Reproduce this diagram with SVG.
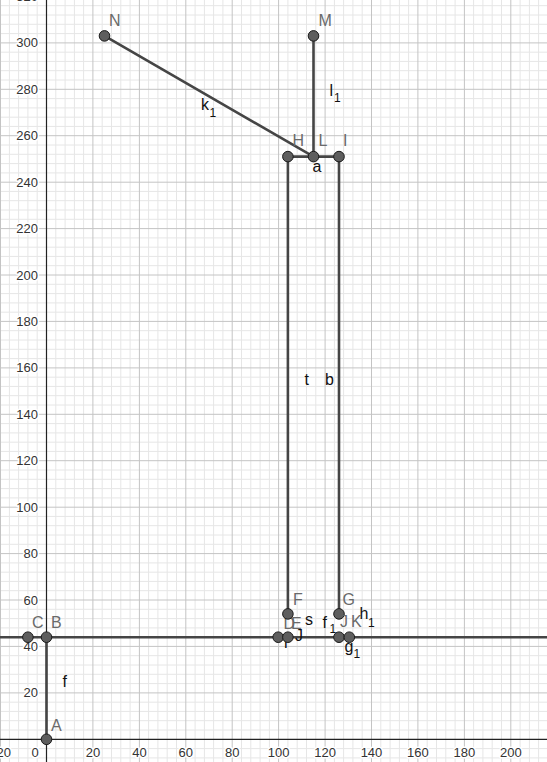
<svg xmlns="http://www.w3.org/2000/svg" width="547" height="762" viewBox="0 0 547 762">
<style>
.minor{stroke:#e6e6e6;stroke-width:1;fill:none}
.major{stroke:#c4c4c4;stroke-width:1;fill:none}
.axis{stroke:#222;stroke-width:1.2;fill:none}
.tick{font-family:"Liberation Sans",Arial,sans-serif;font-size:13px;fill:#333;stroke:#fff;stroke-width:3;paint-order:stroke;stroke-linejoin:round}
.seg{stroke:#454545;stroke-width:2.6;fill:none;stroke-linecap:round}
.pt{fill:#5e5e5e;stroke:#1a1a1a;stroke-width:1}
.pl{font-family:"Liberation Sans",Arial,sans-serif;font-size:16px;fill:#6a6a6a}
.sl{font-family:"Liberation Sans",Arial,sans-serif;font-size:16px;fill:#111}
.sub{font-size:12px}
</style>
<rect width="547" height="762" fill="#fff"/>
<g id="grid">
<path class="minor" d="M9.4 0V762M18.6 0V762M27.9 0V762M37.2 0V762M55.8 0V762M65.1 0V762M74.4 0V762M83.6 0V762M102.2 0V762M111.5 0V762M120.8 0V762M130.1 0V762M148.6 0V762M157.9 0V762M167.2 0V762M176.5 0V762M195.1 0V762M204.4 0V762M213.6 0V762M222.9 0V762M241.5 0V762M250.8 0V762M260.1 0V762M269.4 0V762M287.9 0V762M297.2 0V762M306.5 0V762M315.8 0V762M334.4 0V762M343.6 0V762M352.9 0V762M362.2 0V762M380.8 0V762M390.1 0V762M399.4 0V762M408.6 0V762M427.2 0V762M436.5 0V762M445.8 0V762M455.1 0V762M473.6 0V762M482.9 0V762M492.2 0V762M501.5 0V762M520.1 0V762M529.4 0V762M538.6 0V762
M0 757.9H547M0 748.6H547M0 730H547M0 720.7H547M0 711.4H547M0 702.2H547M0 683.6H547M0 674.3H547M0 665H547M0 655.7H547M0 637.2H547M0 627.9H547M0 618.6H547M0 609.3H547M0 590.7H547M0 581.4H547M0 572.2H547M0 562.9H547M0 544.3H547M0 535H547M0 525.7H547M0 516.4H547M0 497.9H547M0 488.6H547M0 479.3H547M0 470H547M0 451.4H547M0 442.2H547M0 432.9H547M0 423.6H547M0 405H547M0 395.7H547M0 386.4H547M0 377.2H547M0 358.6H547M0 349.3H547M0 340H547M0 330.7H547M0 312.2H547M0 302.9H547M0 293.6H547M0 284.3H547M0 265.7H547M0 256.4H547M0 247.2H547M0 237.9H547M0 219.3H547M0 210H547M0 200.7H547M0 191.4H547M0 172.9H547M0 163.6H547M0 154.3H547M0 145H547M0 126.4H547M0 117.2H547M0 107.9H547M0 98.6H547M0 80H547M0 70.7H547M0 61.4H547M0 52.2H547M0 33.6H547M0 24.3H547M0 15H547M0 5.7H547"/>
<path class="major" d="M0.5 0V762M92.9 0V762M139.4 0V762M185.8 0V762M232.2 0V762M278.6 0V762M325.1 0V762M371.5 0V762M417.9 0V762M464.4 0V762M510.8 0V762
M0 692.9H547M0 646.4H547M0 600H547M0 553.6H547M0 507.2H547M0 460.7H547M0 414.3H547M0 367.9H547M0 321.4H547M0 275H547M0 228.6H547M0 182.2H547M0 135.7H547M0 89.3H547M0 42.9H547"/>
<path class="axis" d="M0 739.3H547M46.5 0V762"/>
</g>
<g id="tick-labels">
<text class="tick" x="0" y="757" text-anchor="middle">−20</text>
<text class="tick" x="35" y="757" text-anchor="middle">0</text>
<text class="tick" x="92.9" y="757" text-anchor="middle">20</text>
<text class="tick" x="139.4" y="757" text-anchor="middle">40</text>
<text class="tick" x="185.8" y="757" text-anchor="middle">60</text>
<text class="tick" x="232.2" y="757" text-anchor="middle">80</text>
<text class="tick" x="278.6" y="757" text-anchor="middle">100</text>
<text class="tick" x="325.1" y="757" text-anchor="middle">120</text>
<text class="tick" x="371.5" y="757" text-anchor="middle">140</text>
<text class="tick" x="417.9" y="757" text-anchor="middle">160</text>
<text class="tick" x="464.4" y="757" text-anchor="middle">180</text>
<text class="tick" x="510.8" y="757" text-anchor="middle">200</text>
<text class="tick" x="38" y="697.4" text-anchor="end">20</text>
<text class="tick" x="38" y="650.9" text-anchor="end">40</text>
<text class="tick" x="38" y="604.5" text-anchor="end">60</text>
<text class="tick" x="38" y="558.1" text-anchor="end">80</text>
<text class="tick" x="38" y="511.7" text-anchor="end">100</text>
<text class="tick" x="38" y="465.2" text-anchor="end">120</text>
<text class="tick" x="38" y="418.8" text-anchor="end">140</text>
<text class="tick" x="38" y="372.4" text-anchor="end">160</text>
<text class="tick" x="38" y="325.9" text-anchor="end">180</text>
<text class="tick" x="38" y="279.5" text-anchor="end">200</text>
<text class="tick" x="38" y="233.1" text-anchor="end">220</text>
<text class="tick" x="38" y="186.7" text-anchor="end">240</text>
<text class="tick" x="38" y="140.2" text-anchor="end">260</text>
<text class="tick" x="38" y="93.8" text-anchor="end">280</text>
<text class="tick" x="38" y="47.4" text-anchor="end">300</text>
<text class="tick" x="38" y="0.9" text-anchor="end">320</text>
</g>
<g id="connectors">
<path class="seg" d="M0 637.2H547"/>
<path class="seg" d="M46.5 739.3V637.2"/>
<path class="seg" d="M287.9 156.6V613.9"/>
<path class="seg" d="M339 156.6V613.9"/>
<path class="seg" d="M287.9 156.6H313.5"/>
<path class="seg" d="M313.5 156.6H339"/>
<path class="seg" d="M313.5 35.9V156.6"/>
<path class="seg" d="M104.5 35.9L313.5 156.6"/>
</g>
<g id="segment-labels">
<text class="sl" x="62.5" y="687">f</text>
<text class="sl" x="304.5" y="385">t</text>
<text class="sl" x="325" y="385">b</text>
<text class="sl" x="312.5" y="172">a</text>
<text class="sl" x="305" y="625">s</text>
<text class="sl" x="284" y="648">r</text>
<text class="sl" x="295" y="640.5" font-size="9">J</text>
<text class="sl" x="329.5" y="96">l<tspan class="sub" x="334" y="102">1</tspan></text>
<text class="sl" x="201" y="109.5">k<tspan class="sub" x="209.5" y="117">1</tspan></text>
<text class="sl" x="322.5" y="628">f<tspan class="sub" x="329.5" y="633">1</tspan></text>
<text class="sl" x="344.5" y="651.5">g<tspan class="sub" x="353.5" y="658">1</tspan></text>
<text class="sl" x="359.5" y="619">h<tspan class="sub" x="368" y="627">1</tspan></text>
</g>
<g id="D"><text class="pl" x="283.5" y="628.5">D</text><circle class="pt" cx="278.2" cy="637.2" r="5.3"/></g>
<g id="E"><text class="pl" x="291" y="628.5">E</text><circle class="pt" cx="287.9" cy="637.2" r="5.3"/></g>
<g id="A"><circle class="pt" cx="46.5" cy="739.3" r="5.3"/><text class="pl" x="51" y="731">A</text></g>
<g id="B"><circle class="pt" cx="46.5" cy="637.2" r="5.3"/><text class="pl" x="51" y="628">B</text></g>
<g id="C"><circle class="pt" cx="27.9" cy="637.2" r="5.3"/><text class="pl" x="32" y="628">C</text></g>
<g id="F"><circle class="pt" cx="287.9" cy="613.9" r="5.3"/><text class="pl" x="293" y="605">F</text></g>
<g id="G"><circle class="pt" cx="339" cy="613.9" r="5.3"/><text class="pl" x="342.5" y="605">G</text></g>
<g id="J"><text class="pl" x="340" y="627">J</text><circle class="pt" cx="339" cy="637.2" r="5.3"/></g>
<g id="K"><text class="pl" x="351" y="627">K</text><circle class="pt" cx="349.3" cy="637.2" r="5.3"/></g>
<g id="H"><circle class="pt" cx="287.9" cy="156.6" r="5.3"/><text class="pl" x="292.5" y="146">H</text></g>
<g id="L"><circle class="pt" cx="313.5" cy="156.6" r="5.3"/><text class="pl" x="318.5" y="146">L</text></g>
<g id="I"><circle class="pt" cx="339" cy="156.6" r="5.3"/><text class="pl" x="343" y="146">I</text></g>
<g id="M"><circle class="pt" cx="313.5" cy="35.9" r="5.3"/><text class="pl" x="318.5" y="26">M</text></g>
<g id="N"><circle class="pt" cx="104.5" cy="35.9" r="5.3"/><text class="pl" x="109" y="26">N</text></g>
</svg>
